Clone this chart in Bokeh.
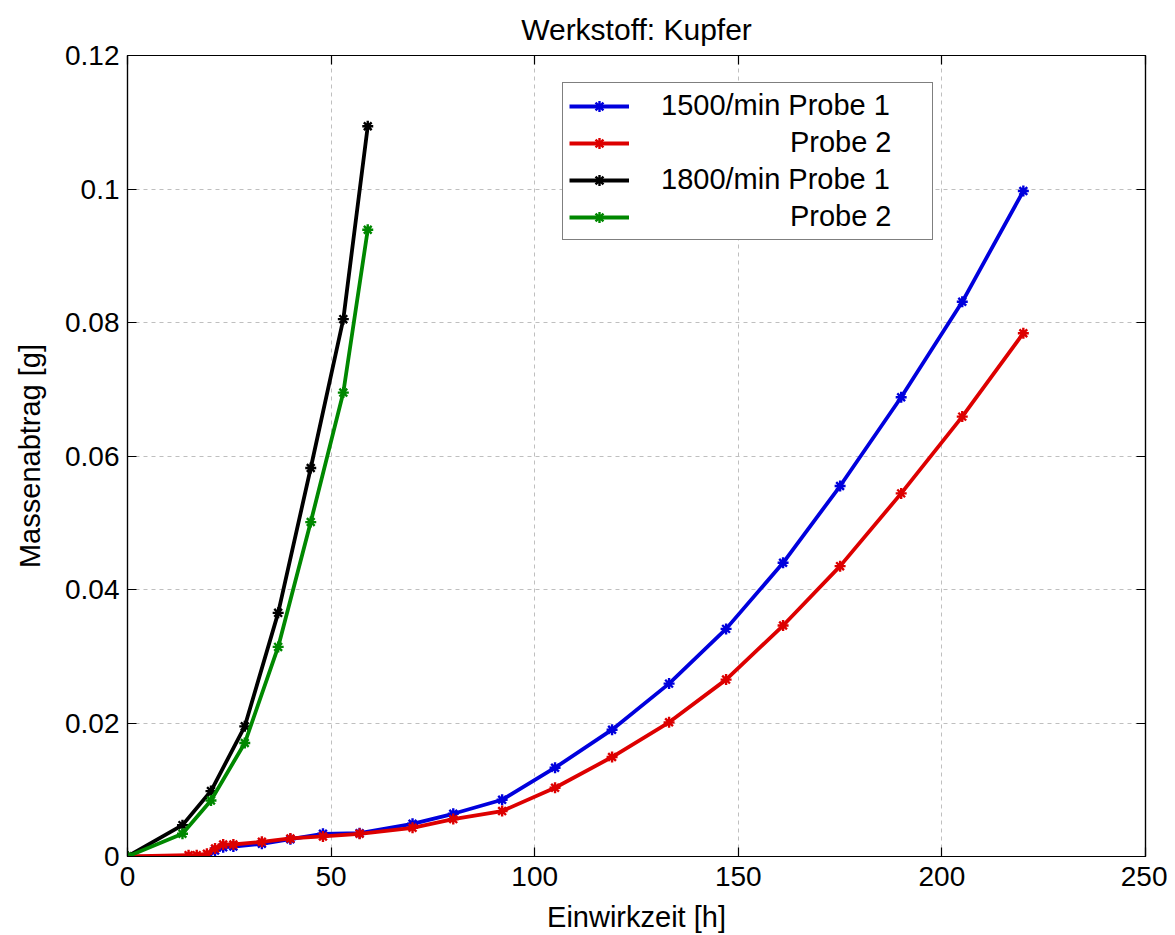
from bokeh.plotting import figure
from bokeh.models import Legend, LegendItem, LinearAxis, FixedTicker, Range1d
from bokeh.embed import file_html
from bokeh.resources import INLINE

# ---- data ----
x_1500 = [0, 15, 17, 19.5, 21.5, 23.5, 26, 33, 40, 48, 57, 70, 80, 92, 105, 119, 133, 147, 161, 175, 190, 205, 220]
y_1500_p1 = [0, -0.0002, -0.0003, -0.0002, 0.0009, 0.0014, 0.0015, 0.0019, 0.0026, 0.0034, 0.0035, 0.0049, 0.0064,
             0.0085, 0.0133, 0.0190, 0.0259, 0.0341, 0.0440, 0.0555, 0.0688, 0.0831, 0.0997]
y_1500_p2 = [0, 0.0002, 0.0002, 0.0004, 0.0012, 0.0018, 0.0018, 0.0022, 0.0027, 0.0030, 0.0034, 0.0043, 0.0056,
             0.0068, 0.0103, 0.0149, 0.0201, 0.0265, 0.0346, 0.0435, 0.0544, 0.0659, 0.0784]
x_1800 = [0, 13.5, 20.5, 28.8, 37, 45, 53, 59]
y_1800_p1 = [0, 0.0047, 0.0098, 0.0195, 0.0365, 0.0582, 0.0805, 0.1094]
y_1800_p2 = [0, 0.0034, 0.0084, 0.0170, 0.0314, 0.0501, 0.0695, 0.0939]

NB = "\u00a0" * 16
labels = ["1500/min Probe 1", NB + "Probe 2", "1800/min Probe 1", NB + "Probe 2"]
colors = ["#0000dd", "#dd0000", "#000000", "#008800"]

x_ticks = [0, 50, 100, 150, 200, 250]
y_ticks = [0, 0.02, 0.04, 0.06, 0.08, 0.1, 0.12]
y_tick_labels = ["0", "0.02", "0.04", "0.06", "0.08", "0.1", "0.12"]

title_text = "Werkstoff: Kupfer"
x_label = "Einwirkzeit [h]"
y_label = "Massenabtrag [g]"

FONT = "Liberation Sans"

p = figure(width=1167, height=935, x_range=Range1d(0, 250), y_range=Range1d(0, 0.12),
           output_backend="svg", toolbar_location=None,
           min_border_left=127, min_border_right=22, min_border_top=55, min_border_bottom=78)
p.background_fill_color = "white"
p.border_fill_color = "white"
p.outline_line_color = "black"
p.outline_line_width = 1.2

p.title.text = title_text
p.title.align = "center"
p.title.text_font = FONT
p.title.text_font_size = "30px"
p.title.text_font_style = "normal"
p.title.text_color = "black"
p.title.standoff = 19

def style_axis(ax, show_labels):
    ax.axis_line_color = "black"
    ax.axis_line_width = 1.2
    ax.major_tick_in = 9
    ax.major_tick_out = 0
    ax.minor_tick_line_color = None
    ax.major_tick_line_color = "black"
    ax.major_tick_line_width = 1.2
    ax.major_label_text_font = FONT
    ax.major_label_text_color = "black"
    if show_labels:
        ax.major_label_text_font_size = "28px"
    else:
        ax.major_label_text_font_size = "1px"
        ax.major_label_standoff = 0

p.xaxis.ticker = FixedTicker(ticks=x_ticks)
p.yaxis.ticker = FixedTicker(ticks=y_ticks)
p.yaxis.major_label_overrides = dict(zip(y_ticks, y_tick_labels))
style_axis(p.xaxis[0], True)
style_axis(p.yaxis[0], True)
p.xaxis.major_label_standoff = 10
p.yaxis.major_label_standoff = 8
p.xaxis.axis_label = x_label
p.yaxis.axis_label = y_label
for ax in (p.xaxis[0], p.yaxis[0]):
    ax.axis_label_text_font = FONT
    ax.axis_label_text_font_size = "29px"
    ax.axis_label_text_font_style = "normal"
    ax.axis_label_text_color = "black"
p.xaxis.axis_label_standoff = 12
p.yaxis.axis_label_standoff = 16

top = LinearAxis(ticker=FixedTicker(ticks=x_ticks))
right = LinearAxis(ticker=FixedTicker(ticks=y_ticks))
style_axis(top, False)
style_axis(right, False)
top.major_label_overrides = {t: "" for t in x_ticks}
right.major_label_overrides = {t: "" for t in y_ticks}
p.add_layout(top, "above")
p.add_layout(right, "right")

p.xgrid.ticker = FixedTicker(ticks=x_ticks)
p.ygrid.ticker = FixedTicker(ticks=y_ticks)
for g in (p.xgrid[0], p.ygrid[0]):
    g.grid_line_color = "#bfbfbf"
    g.grid_line_dash = "4 4"
    g.grid_line_width = 1

series = [(x_1500, y_1500_p1), (x_1500, y_1500_p2), (x_1800, y_1800_p1), (x_1800, y_1800_p2)]
items = []
for (xs, ys), c, lab in zip(series, colors, labels):
    rl = p.line(xs, ys, line_color=c, line_width=3.8)
    rm = p.scatter(xs, ys, marker="asterisk", size=11, line_color=c, line_width=2.4)
    items.append(LegendItem(label=lab, renderers=[rl, rm]))

legend = Legend(items=items, location=(435, 616))
legend.label_text_font = FONT
legend.label_text_font_size = "29px"
legend.label_text_color = "black"
legend.glyph_width = 60
legend.glyph_height = 28
legend.label_height = 28
legend.label_width = 265
legend.label_standoff = 32
legend.spacing = 4
legend.padding = 6
legend.margin = 0
legend.border_line_color = "black"
legend.border_line_width = 1.2
legend.background_fill_alpha = 1
p.add_layout(legend, "center")

open("out.html", "w").write(file_html(p, INLINE))
